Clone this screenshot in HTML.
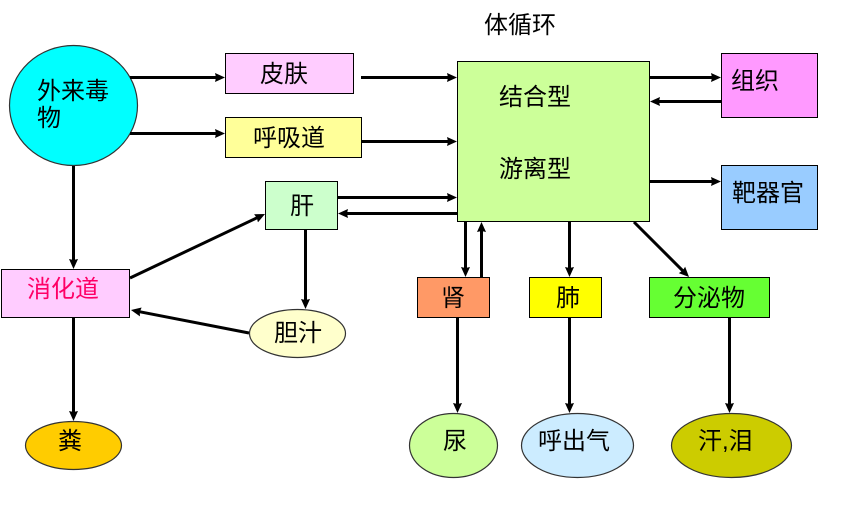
<!DOCTYPE html>
<html><head><meta charset="utf-8">
<style>
html,body{margin:0;padding:0;background:#fff}
svg{display:block}
text{font-family:"Liberation Sans","WenQuanYi Zen Hei","Noto Sans CJK SC",sans-serif;font-size:24px;fill:#000}
.s{stroke:#000;stroke-width:1}
.e{stroke:#333;stroke-width:1.2}
.l{stroke:#000;stroke-width:3;fill:none}
</style></head><body>
<svg width="850" height="508" viewBox="0 0 850 508" xmlns="http://www.w3.org/2000/svg">
<defs>
<marker id="a" markerUnits="userSpaceOnUse" markerWidth="11" markerHeight="11" refX="6" refY="5.5" orient="auto"><path d="M0,1 L10,5.5 L0,10 L1,5.5 Z" fill="#000"/></marker>
</defs>
<rect width="850" height="508" fill="#fff"/>

<ellipse class="e" cx="73.5" cy="105.5" rx="64" ry="60" fill="#00FFFF"/>
<rect class="s" x="225.5" y="53.5" width="128" height="40" fill="#FFCCFF"/>
<rect class="s" x="225.5" y="117.5" width="136" height="40" fill="#FFFF99"/>
<rect class="s" x="265.5" y="181.5" width="72" height="48" fill="#CCFFCC"/>
<rect class="s" x="1.5" y="269.5" width="128" height="48" fill="#FFCCFF"/>
<rect class="s" x="457.5" y="61.5" width="192" height="160" fill="#CCFF99"/>
<rect class="s" x="721.5" y="53.5" width="96" height="64" fill="#FF99FF"/>
<rect class="s" x="721.5" y="165.5" width="96" height="64" fill="#99CCFF"/>
<rect class="s" x="417.5" y="277.5" width="72" height="40" fill="#FF9966"/>
<rect class="s" x="529.5" y="277.5" width="72" height="40" fill="#FFFF00"/>
<rect class="s" x="649.5" y="277.5" width="120" height="40" fill="#66FF33"/>
<ellipse class="e" cx="297.5" cy="333.5" rx="48" ry="24" fill="#FFFFCC"/>
<ellipse class="e" cx="73.5" cy="445.5" rx="48" ry="24" fill="#FFCC00"/>
<ellipse class="e" cx="453.5" cy="445.5" rx="44" ry="32" fill="#CCFF99"/>
<ellipse class="e" cx="577.5" cy="445.5" rx="56" ry="32" fill="#CCECFF"/>
<ellipse class="e" cx="731.5" cy="445.5" rx="60" ry="32" fill="#CCCC00"/>

<line class="l" x1="130" y1="77.5" x2="221" y2="77.5" marker-end="url(#a)"/>
<line class="l" x1="130" y1="133.5" x2="221" y2="133.5" marker-end="url(#a)"/>
<line class="l" x1="361" y1="77.5" x2="453" y2="77.5" marker-end="url(#a)"/>
<line class="l" x1="362" y1="141.5" x2="453" y2="141.5" marker-end="url(#a)"/>
<line class="l" x1="338" y1="197.5" x2="453" y2="197.5" marker-end="url(#a)"/>
<line class="l" x1="457" y1="213.5" x2="342" y2="213.5" marker-end="url(#a)"/>
<line class="l" x1="73.5" y1="166" x2="73.5" y2="265" marker-end="url(#a)"/>
<line class="l" x1="130" y1="278" x2="261.4" y2="215.7" marker-end="url(#a)"/>
<line class="l" x1="249" y1="333" x2="134.9" y2="310.8" marker-end="url(#a)"/>
<line class="l" x1="305.5" y1="230" x2="305.5" y2="305" marker-end="url(#a)"/>
<line class="l" x1="73.5" y1="318" x2="73.5" y2="417" marker-end="url(#a)"/>
<line class="l" x1="465.5" y1="222" x2="465.5" y2="273" marker-end="url(#a)"/>
<line class="l" x1="481.5" y1="277" x2="481.5" y2="226" marker-end="url(#a)"/>
<line class="l" x1="569.5" y1="222" x2="569.5" y2="273" marker-end="url(#a)"/>
<line class="l" x1="634" y1="222" x2="686.2" y2="274.2" marker-end="url(#a)"/>
<line class="l" x1="650" y1="77.5" x2="717" y2="77.5" marker-end="url(#a)"/>
<line class="l" x1="721" y1="101.5" x2="654" y2="101.5" marker-end="url(#a)"/>
<line class="l" x1="650" y1="181.5" x2="717" y2="181.5" marker-end="url(#a)"/>
<line class="l" x1="457.5" y1="318" x2="457.5" y2="409" marker-end="url(#a)"/>
<line class="l" x1="569.5" y1="318" x2="569.5" y2="409" marker-end="url(#a)"/>
<line class="l" x1="729.5" y1="318" x2="729.5" y2="409" marker-end="url(#a)"/>

<text x="484" y="33">体循环</text>
<text x="37" y="99">外来毒</text>
<text x="37" y="126">物</text>
<text x="260" y="82">皮肤</text>
<text x="253" y="146">呼吸道</text>
<text x="290" y="214">肝</text>
<text x="27" y="297" style="fill:#FF0066">消化道</text>
<text x="274" y="341">胆汁</text>
<text x="58" y="449">粪</text>
<text x="499" y="105">结合型</text>
<text x="499" y="177">游离型</text>
<text x="731" y="89">组织</text>
<text x="732" y="201">靶器官</text>
<text x="441" y="306">肾</text>
<text x="556" y="306">肺</text>
<text x="673" y="306">分泌物</text>
<text x="443" y="449">尿</text>
<text x="538" y="449">呼出气</text>
<text x="698" y="449">汗,泪</text>
</svg>
</body></html>
